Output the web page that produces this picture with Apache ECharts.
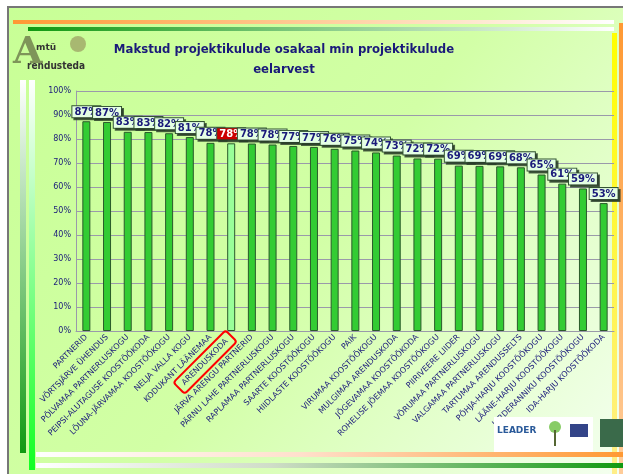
<!DOCTYPE html>
<html>
<head>
<meta charset="utf-8">
<script src="https://cdn.jsdelivr.net/npm/echarts@6/dist/echarts.min.js"></script>
<style>
  html, body { margin: 0; padding: 0; background: #fff; }
  #chart { width: 623px; height: 474px; }
</style>
</head>
<body>
<div id="chart"></div>
<script>
// data
const groups = [
    "PARTNERID", "VÕRTSJÄRVE ÜHENDUS", "PÕLVAMAA PARTNERLUSKOGU", "PEIPSI-ALUTAGUSE KOOSTÖÖKODA",
    "LÕUNA-JÄRVAMAA KOOSTÖÖKOGU", "NELJA VALLA KOGU", "KODUKANT LÄÄNEMAA", "ARENDUSKODA",
    "JÄRVA ARENGU PARTNERID", "PÄRNU LAHE PARTNERLUSKOGU", "RAPLAMAA PARTNERLUSKOGU", "SAARTE KOOSTÖÖKOGU",
    "HIIDLASTE KOOSTÖÖKOGU", "PAIK", "VIRUMAA KOOSTÖÖKOGU", "MULGIMAA ARENDUSKODA",
    "JÕGEVAMAA KOOSTÖÖKODA", "ROHELISE JÕEMAA KOOSTÖÖKOGU", "PIIRIVEERE LIIDER", "VÕRUMAA PARTNERLUSKOGU",
    "VALGAMAA PARTNERLUSKOGU", "TARTUMAA ARENDUSSELTS", "PÕHJA-HARJU KOOSTÖÖKOGU", "LÄÄNE-HARJU KOOSTÖÖKOGU",
    "KIRDERANNIKU KOOSTÖÖKOGU", "IDA-HARJU KOOSTÖÖKODA"
];
const paidShare = [
    87.4, 87.1, 83.0, 82.9, 82.4, 80.8, 78.4, 78.2,
    78.1, 77.7, 77.1, 76.7, 75.9, 75.2, 74.4, 73.1,
    71.9, 71.8, 68.9, 68.8, 68.6, 68.2, 65.2, 61.4,
    59.4, 53.3
];
const highlight = "ARENDUSKODA";
const titleText = "Makstud projektikulude osakaal min projektikulude\neelarvest";

const chart = echarts.init(document.getElementById("chart"));

const navy = "#1a1a7a";

const barData = paidShare.map((v, i) => {
    if (groups[i] !== highlight) return v;
    return {
        value: v,
        itemStyle: { color: "#99ff99" },
        label: { backgroundColor: "#cc0000", color: "#fff" },
    };
});

const hgrad = (a, b) => new echarts.graphic.LinearGradient(0, 0, 1, 0, [
    { offset: 0, color: a }, { offset: 1, color: b },
]);
const vgrad = (a, b) => new echarts.graphic.LinearGradient(0, 0, 0, 1, [
    { offset: 0, color: a }, { offset: 1, color: b },
]);

const option = {
    backgroundColor: "#fff",
    animation: false,
    textStyle: { fontFamily: "DejaVu Sans" },
    title: {
        text: titleText,
        left: 279,
        textAlign: "center",
        top: 35,
        textStyle: {
            fontFamily: "DejaVu Sans Condensed",
            fontSize: 13,
            fontWeight: "bold",
            color: navy,
            lineHeight: 20,
        },
    },
    graphic: [
        // slide background
        {
            type: "rect", z: -10, silent: true,
            shape: { x: 9, y: 8, width: 614, height: 466 },
            style: {
                fill: new echarts.graphic.LinearGradient(0, 0, 1, 1, [
                    { offset: 0, color: "#c8ff96" },
                    { offset: 0.5, color: "#d2ffa6" },
                    { offset: 1, color: "#f4fff0" },
                ]),
            },
        },
        { type: "rect", z: -9, shape: { x: 8, y: 6, width: 615, height: 2 }, style: { fill: "#777" } },
        { type: "rect", z: -9, shape: { x: 7, y: 6, width: 2, height: 468 }, style: { fill: "#777" } },
        // top stripes
        { type: "rect", z: -9, shape: { x: 13, y: 20, width: 601, height: 4 }, style: { fill: hgrad("#ff9933", "#ffffff") } },
        { type: "rect", z: -9, shape: { x: 28, y: 27, width: 586, height: 4 }, style: { fill: hgrad("#119911", "#ffffff") } },
        // right stripes
        { type: "rect", z: -9, shape: { x: 612, y: 33, width: 5, height: 441 }, style: { fill: vgrad("#ffff00", "#ffee88") } },
        { type: "rect", z: -9, shape: { x: 619, y: 23, width: 4, height: 451 }, style: { fill: vgrad("#ff9933", "#ffcc99") } },
        // left stripes
        { type: "rect", z: -9, shape: { x: 20, y: 80, width: 6, height: 373 }, style: { fill: vgrad("#ffffff", "#119911") } },
        { type: "rect", z: -9, shape: { x: 29, y: 80, width: 6, height: 390 }, style: { fill: vgrad("#ffffff", "#11ff22") } },
        // bottom stripes
        { type: "rect", z: -9, shape: { x: 36, y: 452, width: 587, height: 5 }, style: { fill: new echarts.graphic.LinearGradient(0, 0, 1, 0, [
            { offset: 0, color: "#ffffff" }, { offset: 0.45, color: "#ffe0cc" }, { offset: 1, color: "#ff9933" },
        ]) } },
        { type: "rect", z: -9, shape: { x: 36, y: 463, width: 587, height: 5 }, style: { fill: new echarts.graphic.LinearGradient(0, 0, 1, 0, [
            { offset: 0, color: "#ffffff" }, { offset: 0.4, color: "#d0ddc8" }, { offset: 1, color: "#119911" },
        ]) } },
        // top-left logo
        { type: "text", z: 5, style: { x: 13, y: 34, text: "A", font: "bold 38px 'DejaVu Serif'", fill: "#6b7b4a", opacity: 0.8 } },
        { type: "text", z: 6, style: { x: 36, y: 43, text: "mtü", font: "bold 9px 'DejaVu Sans'", fill: "#333" } },
        { type: "text", z: 6, style: { x: 27, y: 61, text: "rendusteda", font: "bold 10px 'DejaVu Sans Condensed'", fill: "#333" } },
        { type: "circle", z: 5, shape: { cx: 78, cy: 44, r: 8 }, style: { fill: "#9a9a60", opacity: 0.7 } },
        // bottom-right logos
        { type: "rect", z: 4, shape: { x: 494, y: 417, width: 99, height: 35 }, style: { fill: "#fff" } },
        { type: "text", z: 5, style: { x: 497, y: 426, text: "LEADER", font: "bold 9px 'DejaVu Sans'", fill: "#2a5a9a" } },
        { type: "circle", z: 5, shape: { cx: 555, cy: 427, r: 6 }, style: { fill: "#88cc66" } },
        { type: "rect", z: 5, shape: { x: 554, y: 430, width: 2, height: 16 }, style: { fill: "#556633" } },
        { type: "rect", z: 5, shape: { x: 570, y: 424, width: 18, height: 13 }, style: { fill: "#334488" } },
        { type: "rect", z: 4, shape: { x: 600, y: 419, width: 23, height: 28 }, style: { fill: "#3a6a4a" } },
    ],
    grid: { left: 76, right: 9, top: 91, bottom: 143, containLabel: false },
    xAxis: {
        type: "category",
        data: groups,
        axisLine: { lineStyle: { color: "#9a9aaa", width: 1 } },
        axisTick: { length: 3, lineStyle: { color: "#9a9aaa" } },
        axisLabel: {
            interval: 0,
            rotate: 45,
            margin: 5,
            fontSize: 8,
            color: navy,
            formatter: (v) => (v === highlight ? "{hl|" + v + "}" : v),
            rich: {
                hl: {
                    fontSize: 8,
                    color: navy,
                    borderColor: "#ff0000",
                    borderWidth: 2,
                    borderRadius: 3,
                    padding: [4, 6],
                },
            },
        },
    },
    yAxis: {
        type: "value",
        min: 0,
        max: 100,
        interval: 10,
        axisLine: { show: true, lineStyle: { color: "#9a9aaa" } },
        axisTick: { show: false },
        axisLabel: { formatter: "{value}%", fontSize: 8, color: navy, margin: 5 },
        splitLine: { lineStyle: { color: "#9a9aaa", width: 1 } },
    },
    series: [
        {
            type: "bar",
            data: barData,
            barWidth: 8,
            itemStyle: { color: "#33cc33", borderColor: "#2a5a2a", borderWidth: 1 },
            label: {
                show: true,
                position: "top",
                distance: 4,
                formatter: (p) => Math.round(p.value) + "%",
                fontSize: 10,
                fontWeight: "bold",
                color: navy,
                backgroundColor: "#e4ffe4",
                borderColor: "#335533",
                borderWidth: 1,
                padding: [1, 2, 0, 2],
                shadowColor: "rgba(40,60,40,0.8)",
                shadowOffsetX: 2,
                shadowOffsetY: 2,
            },
        },
    ],
};

chart.setOption(option);
</script>
</body>
</html>
